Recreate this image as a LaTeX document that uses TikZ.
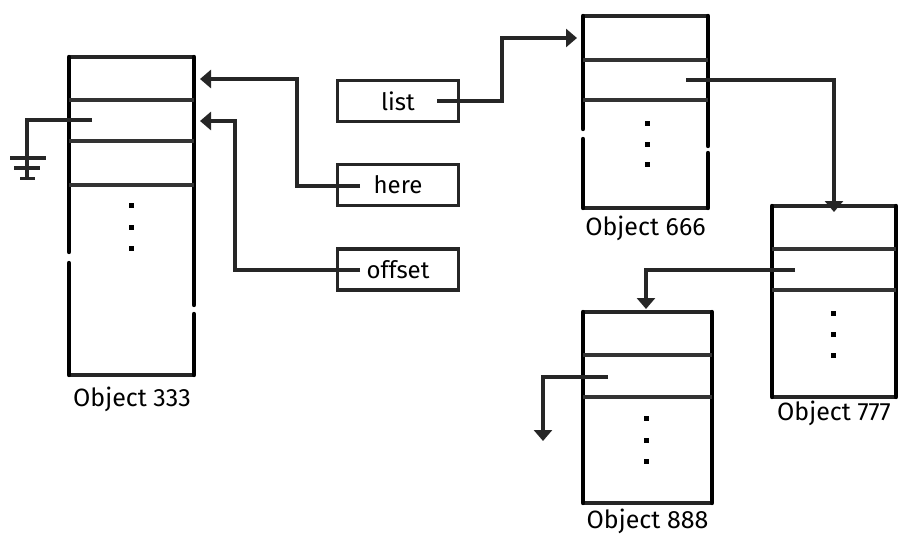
\documentclass[tikz,border=0pt]{standalone}
\usepackage{fontspec}
\setmainfont{Fira Sans}
\usetikzlibrary{arrows.meta}
\begin{document}
\begin{tikzpicture}[x=1pt,y=-1pt,
  side/.style={line width=4.4pt,line cap=round},
  edgeline/.style={line width=3.4pt,black!85},
  field/.style={line width=3.2pt,black!80},
  ptr/.style={line width=3.4pt,black!85,-{Triangle[length=11pt,width=18pt]}},
  ptrline/.style={line width=3.4pt,black!85},
  varbox/.style={draw,black!85,text=black,line width=3.6pt,minimum width=121pt,minimum height=41pt,font=\fontsize{24}{24}\selectfont,inner sep=0pt},
  lbl/.style={font=\fontsize{25}{25}\selectfont,inner sep=0pt},
  dotmark/.style={fill,minimum size=5pt,inner sep=0pt}
]
\useasboundingbox (0,0) rectangle (899,536);

% ---------- Object 333 ----------
\draw[edgeline] (69,57) -- (194,57);
\draw[edgeline] (69,375) -- (194,375);
\draw[side] (69,57) -- (69,252);
\draw[side] (69,263) -- (69,375);
\draw[side] (194,57) -- (194,305);
\draw[side] (194,314) -- (194,375);
\foreach \yy in {100,141,185} \draw[field] (69,\yy) -- (194,\yy);
\foreach \yy/\nm in {205/a,227/b,248/c} \node[dotmark] (d333\nm) at (131,\yy) {};
\node[lbl] (l333) at (132,399) {Object 333};
\coordinate (f333a) at (194,79);
\coordinate (f333b) at (194,121);
\coordinate (p333) at (92,120);
\coordinate (g333) at (27,179);
% ground
\draw[ptrline] (p333) -| (g333);
\draw[ptrline] (10,158) -- (46,158);
\draw[ptrline] (14,168) -- (40,168);
\draw[ptrline] (20,178.5) -- (35,178.5);

% ---------- variable boxes ----------
\node[varbox] (list) at (398,101) {list};
\node[varbox] (here) at (398,185) {here};
\node[varbox] (offset) at (398,269.5) {offset};
\coordinate (listS) at (437,101);
\coordinate (hereS) at (360,186);
\coordinate (offsetS) at (360,270);

% ---------- Object 666 ----------
\draw[edgeline] (583,16) -- (708,16);
\draw[edgeline] (583,208) -- (708,208);
\draw[side] (583,16) -- (583,129);
\draw[side] (583,139) -- (583,208);
\draw[side] (708,16) -- (708,146);
\draw[side] (708,153) -- (708,208);
\foreach \yy in {60,100} \draw[field] (583,\yy) -- (708,\yy);
\foreach \yy/\nm in {123/a,144/b,164/c} \node[dotmark] (d666\nm) at (647,\yy) {};
\node[lbl] (l666) at (645.5,228) {Object 666};
\coordinate (f666) at (583,38);
\coordinate (p666) at (686,80);

% ---------- Object 777 ----------
\draw[edgeline] (772,206) -- (896,206);
\draw[edgeline] (772,397) -- (896,397);
\draw[side] (772,206) -- (772,397);
\draw[side] (896,206) -- (896,397);
\foreach \yy in {249,290} \draw[field] (772,\yy) -- (896,\yy);
\foreach \yy/\nm in {313/a,334/b,355/c} \node[dotmark] (d777\nm) at (833,\yy) {};
\node[lbl] (l777) at (834,413) {Object 777};
\coordinate (f777) at (834,206);
\coordinate (p777) at (795,270);

% ---------- Object 888 ----------
\draw[edgeline] (583,312) -- (712,312);
\draw[edgeline] (583,503) -- (712,503);
\draw[side] (583,312) -- (583,503);
\draw[side] (712,312) -- (712,503);
\foreach \yy in {355,397} \draw[field] (583,\yy) -- (712,\yy);
\foreach \yy/\nm in {418/a,440/b,461/c} \node[dotmark] (d888\nm) at (646,\yy) {};
\node[lbl] (l888) at (647.5,521) {Object 888};
\coordinate (f888) at (646,309);
\coordinate (p888) at (608,377);
\coordinate (n888) at (543,441);

% ---------- pointers ----------
\draw[ptr] (listS) -- (502,101) |- ([xshift=-6pt]f666);
\draw[ptr] (hereS) -- (297,186) |- ([xshift=6pt]f333a);
\draw[ptr] (offsetS) -- (235,270) |- ([xshift=6pt]f333b);
\draw[ptr] (p666) -| ([yshift=-6pt]f777);
\draw[ptr] (p777) -| (f888);
\draw[ptr] (p888) -| (n888);
\end{tikzpicture}
\end{document}
